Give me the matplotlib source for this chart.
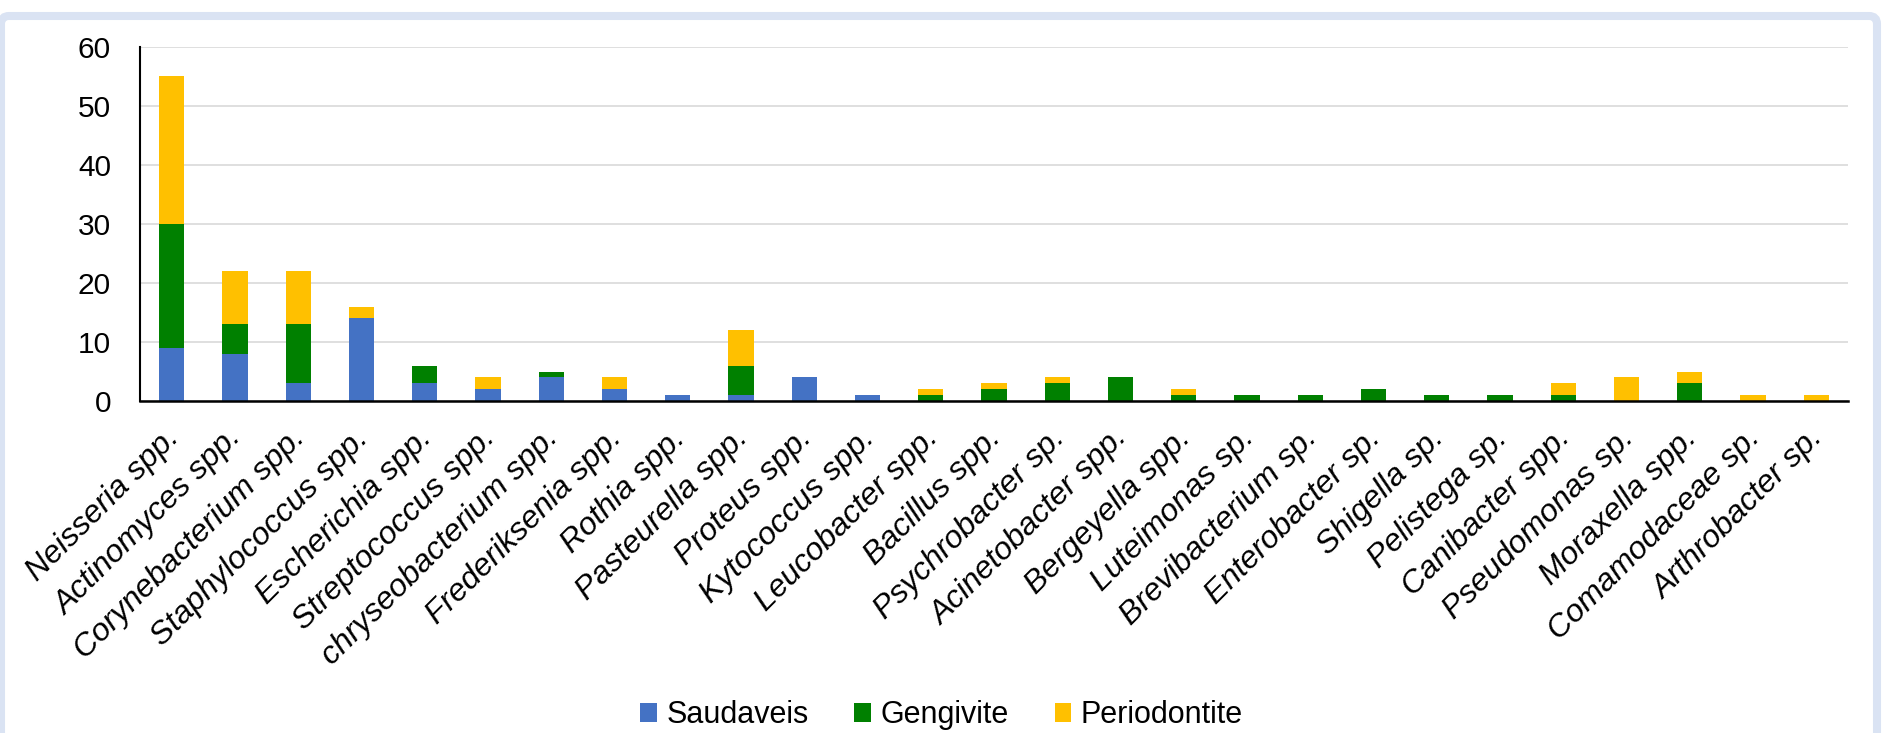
import numpy as np
import matplotlib
matplotlib.use("Agg")
import matplotlib.pyplot as plt
from matplotlib.patches import FancyBboxPatch
from matplotlib.transforms import IdentityTransform, ScaledTranslation

plt.rcParams['font.family'] = ['Liberation Sans', 'DejaVu Sans']

genera = ['Neisseria spp.', 'Actinomyces spp.', 'Corynebacterium spp.', 'Staphylococcus spp.',
          'Escherichia spp.', 'Streptococcus spp.', 'chryseobacterium spp.', 'Frederiksenia spp.',
          'Rothia spp.', 'Pasteurella spp.', 'Proteus spp.', 'Kytococcus spp.',
          'Leucobacter spp.', 'Bacillus spp.', 'Psychrobacter sp.', 'Acinetobacter spp.',
          'Bergeyella spp.', 'Luteimonas sp.', 'Brevibacterium sp.', 'Enterobacter sp.',
          'Shigella sp.', 'Pelistega sp.', 'Canibacter spp.', 'Pseudomonas sp.',
          'Moraxella spp.', 'Comamodaceae sp.', 'Arthrobacter sp.']
saudaveis = [9, 8, 3, 14, 3, 2, 4, 2, 1, 1, 4, 1, 0, 0, 0, 0, 0, 0, 0, 0, 0, 0, 0, 0, 0, 0, 0]
gengivite = [21, 5, 10, 0, 3, 0, 1, 0, 0, 5, 0, 0, 1, 2, 3, 4, 1, 1, 1, 2, 1, 1, 1, 0, 3, 0, 0]
periodontite = [25, 9, 9, 2, 0, 2, 0, 2, 0, 6, 0, 0, 1, 1, 1, 0, 1, 0, 0, 0, 0, 0, 2, 4, 2, 1, 1]

series_names = ['Saudaveis', 'Gengivite', 'Periodontite']
colors = ['#4472C4', '#008000', '#FFC000']

fig = plt.figure(figsize=(18.83, 7.33), dpi=100)
ax = fig.add_axes([0.0744, 0.4529, 0.9070, 0.4830])

x = np.arange(len(genera))
s = np.array(saudaveis)
g = np.array(gengivite)
p = np.array(periodontite)

ax.bar(x, s, 0.4, color=colors[0], label=series_names[0], zorder=3)
ax.bar(x, g, 0.4, bottom=s, color=colors[1], label=series_names[1], zorder=3)
ax.bar(x, p, 0.4, bottom=s + g, color=colors[2], label=series_names[2], zorder=3)

ax.set_xlim(-0.5, len(genera) - 0.5)
ax.set_ylim(0, 60)
ax.set_yticks(range(0, 61, 10))
ax.yaxis.grid(True, color='#D9D9D9', linewidth=1.2, zorder=0)
ax.set_axisbelow(True)
ax.tick_params(axis='y', length=0, pad=21, labelsize=21.5)
ax.tick_params(axis='x', length=0)
ax.set_xticks(x)
ax.set_xticklabels([])

for side in ['top', 'right']:
    ax.spines[side].set_visible(False)
ax.spines['left'].set_linewidth(1.5)
ax.spines['bottom'].set_linewidth(1.8)
ax.spines['bottom'].set_zorder(4)

# angled genus names hanging below each bar
shift = ScaledTranslation(-8 / 100, -22 / 100, fig.dpi_scale_trans)
for i, name in enumerate(genera):
    ax.text(i, 0, name, transform=ax.get_xaxis_transform() + shift,
            rotation=45, rotation_mode='anchor', ha='right', va='top',
            fontsize=23, style='italic')

fig.legend(loc='center', bbox_to_anchor=(0.5, 0.024), ncol=3, frameon=False,
           fontsize=22, handlelength=0.55, handleheight=0.55,
           handletextpad=0.3, columnspacing=1.5)

# light blue rounded frame around the chart area
frame = FancyBboxPatch((1, -20), 1876, 737, boxstyle='round,pad=0,rounding_size=8',
                       transform=IdentityTransform(), facecolor='none',
                       edgecolor='#DAE3F3', linewidth=5.8)
fig.patches.append(frame)

fig.savefig('out.png', dpi=100)
